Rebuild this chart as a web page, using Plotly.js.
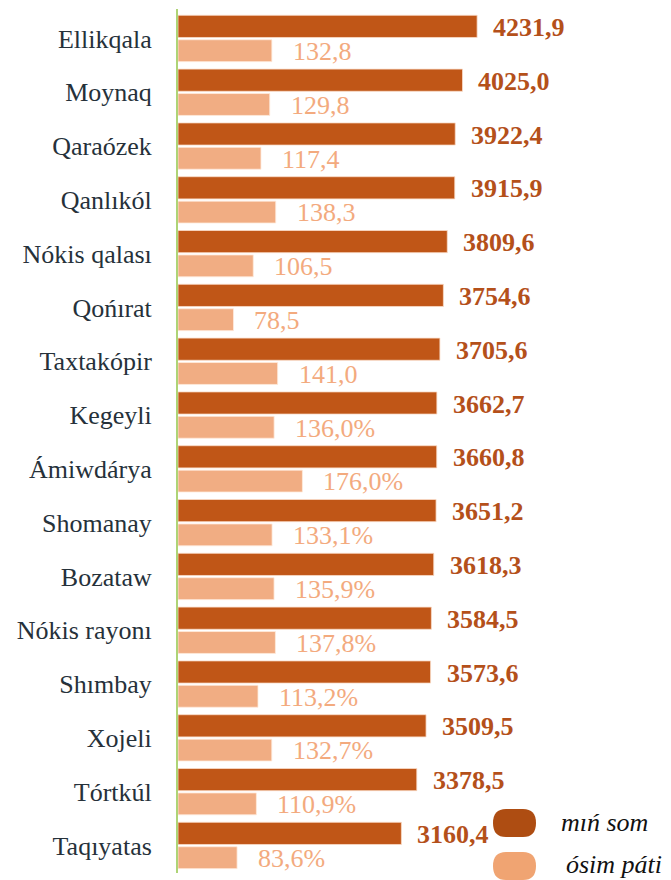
<!DOCTYPE html>
<html>
<head>
<meta charset="utf-8">
<script src="https://cdn.plot.ly/plotly-3.0.1.min.js"></script>
<style>html,body{margin:0;padding:0;background:#fff;}</style>
</head>
<body>
<div id="chart"></div>
<script>
const categories = ["Ellikqala","Moynaq","Qaraózek","Qanlıkól","Nókis qalası","Qońırat","Taxtakópir","Kegeyli","Ámiwdárya","Shomanay","Bozataw","Nókis rayonı","Shımbay","Xojeli","Tórtkúl","Taqıyatas"];
const minSom = [4231.9,4025.0,3922.4,3915.9,3809.6,3754.6,3705.6,3662.7,3660.8,3651.2,3618.3,3584.5,3573.6,3509.5,3378.5,3160.4];
const osimPati = [132.8,129.8,117.4,138.3,106.5,78.5,141.0,136.0,176.0,133.1,135.9,137.8,113.2,132.7,110.9,83.6];
const osimSuffix = ["","","","","","","","%","%","%","%","%","%","%","%","%"];
const seriesNames = ["mıń som","ósim páti"];

const fmt = v => v.toFixed(1).replace('.', ',');
const FONT = 'Liberation Serif, serif';
const darkBar = '#C05617', lightBar = '#F1AD83';
const darkText = '#B4501A', lightText = '#F3AA7E';

const traces = [
  {type:'bar', orientation:'h', name:seriesNames[0], y:categories, x:minSom, xaxis:'x', yaxis:'y',
   marker:{color:darkBar, line:{color:'rgba(250,220,200,0.8)', width:1}}, offset:-0.431, width:0.412,
   hoverinfo:'x+y', showlegend:false},
  {type:'bar', orientation:'h', name:seriesNames[1], y:categories, x:osimPati, xaxis:'x2', yaxis:'y',
   marker:{color:lightBar, line:{color:'rgba(255,235,220,0.8)', width:1}}, offset:0.023, width:0.407,
   hoverinfo:'x+y', showlegend:false}
];

const annotations = [];
categories.forEach((c,i)=>{
  annotations.push({xref:'x', yref:'y', x:minSom[i], y:c, text:'<b>'+fmt(minSom[i])+'</b>',
    showarrow:false, xanchor:'left', yanchor:'middle', xshift:14, yshift:11,
    font:{family:FONT, size:26, color:darkText}});
  annotations.push({xref:'x2', yref:'y', x:osimPati[i], y:c, text:fmt(osimPati[i])+osimSuffix[i],
    showarrow:false, xanchor:'left', yanchor:'middle', xshift:19, yshift:-13,
    font:{family:FONT, size:26, color:lightText}});
});

const L = 178, T = 9, PW = 493, PH = 864;
const px = x => (x - L) / PW;
const py = y => (T + PH - y) / PH;
const pill = 'M -8.5,-14 L 8.5,-14 Q 21.5,-14 21.5,0 Q 21.5,14 8.5,14 L -8.5,14 Q -21.5,14 -21.5,0 Q -21.5,-14 -8.5,-14 Z';
const shapes = [
  {type:'path', xref:'paper', yref:'paper', xsizemode:'pixel', ysizemode:'pixel',
   xanchor:px(514.5), yanchor:py(823), path:pill, fillcolor:'#AE4D12', line:{width:0}},
  {type:'path', xref:'paper', yref:'paper', xsizemode:'pixel', ysizemode:'pixel',
   xanchor:px(514.5), yanchor:py(866), path:pill, fillcolor:'#F0A472', line:{width:0}}
];
annotations.push({xref:'paper', yref:'paper', x:px(559), y:py(822), text:'<i>'+seriesNames[0]+'</i>',
  showarrow:false, xanchor:'left', yanchor:'middle', font:{family:FONT, size:26, color:'#111'}});
annotations.push({xref:'paper', yref:'paper', x:px(564), y:py(864), text:'<i>'+seriesNames[1]+'</i>',
  showarrow:false, xanchor:'left', yanchor:'middle', font:{family:FONT, size:26, color:'#111'}});

const layout = {
  width:671, height:880,
  margin:{l:L, r:0, t:T, b:880-T-PH, pad:0},
  paper_bgcolor:'#fff', plot_bgcolor:'#fff',
  font:{family:FONT},
  barmode:'overlay',
  showlegend:false,
  xaxis:{range:[0,6975], showgrid:false, zeroline:false, showticklabels:false, showline:false},
  xaxis2:{range:[0,697.5], overlaying:'x', side:'top', showgrid:false, zeroline:false, showticklabels:false, showline:false},
  yaxis:{type:'category', autorange:'reversed', showgrid:false, zeroline:false,
    showline:true, linecolor:'#AED476', linewidth:2,
    ticks:'outside', ticklen:19, tickcolor:'rgba(0,0,0,0)',
    tickfont:{family:FONT, size:26, color:'#26313A'}},
  annotations:annotations,
  shapes:shapes
};

Plotly.newPlot('chart', traces, layout, {displayModeBar:false});
</script>
</body>
</html>
